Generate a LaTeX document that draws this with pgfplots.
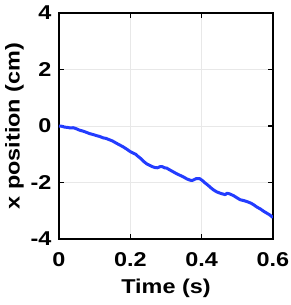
\documentclass[border=0pt]{standalone}
\usepackage{fontspec}
\setmainfont{Liberation Sans}
\newfontfamily\widefont[FakeStretch=1.17]{Liberation Sans}
\usepackage{pgfplots}
\pgfplotsset{compat=1.18}
\begin{document}
\begin{tikzpicture}
\path[use as bounding box] (0pt,0pt) rectangle (290pt,305pt);
\begin{axis}[
  at={(59pt,66pt)}, anchor=south west,
  scale only axis, width=214pt, height=226pt,
  xmin=0, xmax=0.6, ymin=-4, ymax=4,
  xtick={0,0.2,0.4,0.6}, ytick={-4,-2,0,2,4},
  xticklabels={0,0.2,0.4,0.6},
  yticklabels={-4,-2,0,2,4},
  tick align=inside, tick pos=both,
  major tick length=5pt,
  grid=major, major grid style={gray!18, line width=0.8pt},
  axis line style={line width=1.3pt},
  tick style={black, line width=1.3pt},
  /pgf/number format/assume math mode=true,
  ticklabel style={font=\widefont\fontsize{20}{22}\selectfont\bfseries},
  xticklabel style={yshift=-10pt},
  yticklabel style={xshift=-4pt},
  xlabel={Time (s)}, ylabel={x position (cm)},
  label style={font=\widefont\fontsize{20}{22}\selectfont\bfseries},
  xlabel style={yshift=-5pt},
  ylabel style={yshift=0pt},
]
\addplot[color={rgb,255:red,35;green,60;blue,255}, line width=3pt, line join=round] coordinates {
(0,0) (0.008,-0.01) (0.016,-0.04) (0.024,-0.05) (0.032,-0.07) (0.040,-0.06) (0.049,-0.10)
(0.058,-0.15) (0.067,-0.18) (0.076,-0.22) (0.086,-0.27) (0.095,-0.30) (0.105,-0.34)
(0.114,-0.37) (0.124,-0.42) (0.132,-0.44) (0.140,-0.48) (0.150,-0.53) (0.161,-0.61)
(0.170,-0.67) (0.180,-0.74) (0.190,-0.82) (0.199,-0.90) (0.208,-0.96) (0.215,-1.00)
(0.222,-1.08) (0.230,-1.16) (0.238,-1.26) (0.246,-1.34) (0.254,-1.39) (0.262,-1.44)
(0.269,-1.47) (0.276,-1.48) (0.283,-1.44) (0.290,-1.44) (0.296,-1.48) (0.302,-1.49)
(0.310,-1.55) (0.320,-1.62) (0.330,-1.69) (0.340,-1.75) (0.350,-1.81) (0.358,-1.87)
(0.366,-1.91) (0.372,-1.93) (0.377,-1.91) (0.385,-1.86) (0.394,-1.86) (0.402,-1.93)
(0.410,-2.02) (0.418,-2.10) (0.426,-2.19) (0.433,-2.26) (0.442,-2.33) (0.452,-2.38)
(0.460,-2.41) (0.466,-2.43) (0.471,-2.38) (0.478,-2.40) (0.485,-2.44) (0.490,-2.47)
(0.500,-2.55) (0.508,-2.61) (0.518,-2.64) (0.528,-2.68) (0.538,-2.73) (0.546,-2.79)
(0.555,-2.87) (0.565,-2.94) (0.574,-3.02) (0.582,-3.08) (0.590,-3.14) (0.600,-3.24)
};
\end{axis}
\end{tikzpicture}
\end{document}
